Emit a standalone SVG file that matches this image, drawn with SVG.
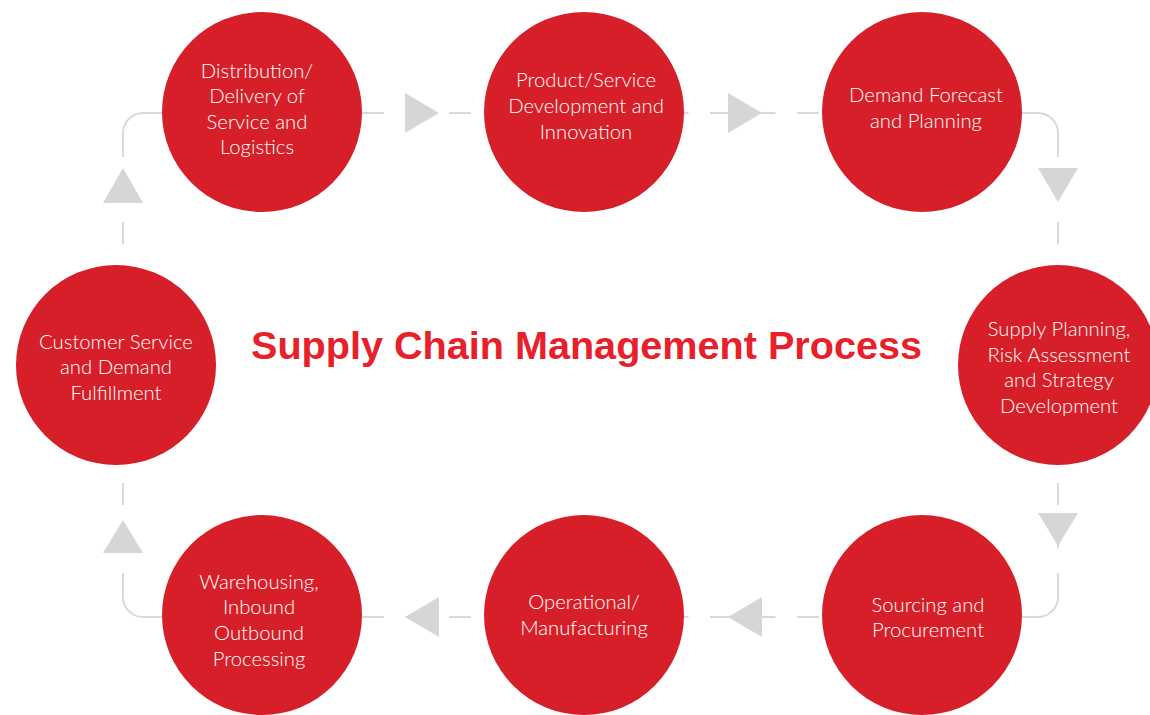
<svg xmlns="http://www.w3.org/2000/svg" width="1150" height="715" viewBox="0 0 1150 715">
<style>
.ln{fill:none;stroke:#d9d9d9;stroke-width:2}
.dash{stroke-dasharray:22 21.5}
.ar{fill:#d6d6d6}
.c{fill:#d61f28}
.t{font-family:Lato,"Liberation Sans",sans-serif;font-weight:300;font-size:20.3px;fill:#ffffff;text-anchor:middle}
.title{font-family:"Liberation Sans",Arial,sans-serif;font-weight:bold;font-size:38px;fill:#e8202a;text-anchor:middle}
</style>
<rect width="1150" height="715" fill="#ffffff"/>
<g id="connectors">
<path class="ln" d="M123,157 V133 A20,20 0 0 1 143,113 H166.5"/>
<path class="ln" d="M1014.5,113 H1038 A20,20 0 0 1 1058,133 V157"/>
<path class="ln" d="M1058,573 V597 A20,20 0 0 1 1038,617 H1014.5"/>
<path class="ln" d="M166.5,617 H143 A20,20 0 0 1 123,597 V573"/>
<line class="ln dash" x1="188" y1="113" x2="993" y2="113"/>
<line class="ln dash" x1="188" y1="617" x2="993" y2="617"/>
<line class="ln dash" x1="123" y1="178.5" x2="123" y2="548.5"/>
<line class="ln dash" x1="1058" y1="178.5" x2="1058" y2="548.5"/>
<polygon class="ar" points="405,93 439,113 405,133"/>
<polygon class="ar" points="728,93 762,113 728,133"/>
<polygon class="ar" points="1038,168 1078,168 1058,202"/>
<polygon class="ar" points="1038,513 1078,513 1058,546"/>
<polygon class="ar" points="439,597 405,617 439,637"/>
<polygon class="ar" points="762,597 728,617 762,637"/>
<polygon class="ar" points="103,553 143,553 123,520"/>
<polygon class="ar" points="103,203 143,203 123,168"/>
</g>
<g id="n1"><circle class="c" cx="262" cy="112" r="100"/>
<text class="t" x="257" y="78">Distribution/</text><text class="t" x="257" y="103">Delivery of</text><text class="t" x="257" y="129">Service and</text><text class="t" x="257" y="154">Logistics</text></g>
<g id="n2"><circle class="c" cx="584" cy="112" r="100"/>
<text class="t" x="586" y="87">Product/Service</text><text class="t" x="586" y="113">Development and</text><text class="t" x="586" y="139">Innovation</text></g>
<g id="n3"><circle class="c" cx="922" cy="112" r="100"/>
<text class="t" x="926" y="102">Demand Forecast</text><text class="t" x="926" y="128">and Planning</text></g>
<g id="n4"><circle class="c" cx="1058" cy="365" r="100"/>
<text class="t" x="1059" y="336">Supply Planning,</text><text class="t" x="1059" y="362">Risk Assessment</text><text class="t" x="1059" y="387">and Strategy</text><text class="t" x="1059" y="413">Development</text></g>
<g id="n5"><circle class="c" cx="922" cy="615" r="100"/>
<text class="t" x="928" y="612">Sourcing and</text><text class="t" x="928" y="637">Procurement</text></g>
<g id="n6"><circle class="c" cx="584" cy="615" r="100"/>
<text class="t" x="584" y="609">Operational/</text><text class="t" x="584" y="635">Manufacturing</text></g>
<g id="n7"><circle class="c" cx="262" cy="615" r="100"/>
<text class="t" x="259" y="589">Warehousing,</text><text class="t" x="259" y="614">Inbound</text><text class="t" x="259" y="640">Outbound</text><text class="t" x="259" y="666">Processing</text></g>
<g id="n8"><circle class="c" cx="116" cy="365" r="100"/>
<text class="t" x="116" y="349">Customer Service</text><text class="t" x="116" y="374">and Demand</text><text class="t" x="116" y="400">Fulfillment</text></g>
<g id="title"><text class="title" x="586.5" y="359" textLength="671" lengthAdjust="spacingAndGlyphs">Supply Chain Management Process</text></g>
</svg>
